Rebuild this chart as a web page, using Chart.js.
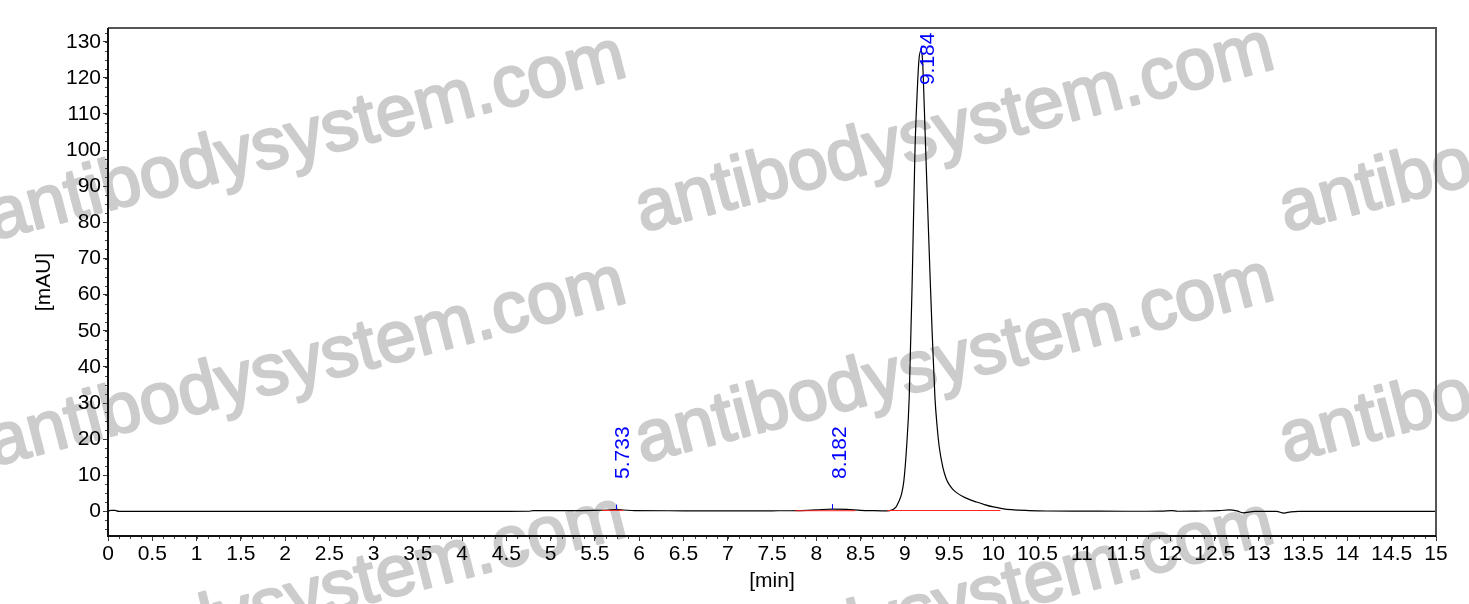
<!DOCTYPE html>
<html>
<head>
<meta charset="utf-8">
<script src="https://cdn.jsdelivr.net/npm/chart.js@4.4.1/dist/chart.umd.min.js"></script>
<style>
html, body { margin: 0; padding: 0; background: #fff; }
#wrap { width: 1469px; height: 604px; position: relative; }
</style>
</head>
<body>
<div id="wrap"><canvas id="myChart"></canvas></div>
<script>
// trace (time in min, signal in mAU)
const timeMin = [
  0.00, 0.03, 0.08, 0.12, 0.5, 1.0, 1.5, 2.0, 2.5, 3.0, 3.5, 4.0, 4.5, 4.75, 4.80,
  5.20, 5.50, 5.65, 5.733, 5.82, 5.95, 6.50, 7.00, 7.50, 7.80, 8.00, 8.182, 8.35,
  8.50, 8.65, 8.80, 8.85, 8.90, 8.93, 8.965, 8.99, 9.02, 9.05, 9.085, 9.115, 9.14,
  9.16, 9.18, 9.20, 9.22, 9.236, 9.26, 9.285, 9.31, 9.34, 9.365, 9.39, 9.43, 9.47,
  9.50, 9.54, 9.585, 9.65, 9.72, 9.81, 9.90, 10.0, 10.1, 10.2, 10.4, 10.6, 11.0, 11.5,
  11.9, 12.02, 12.08, 12.3, 12.55, 12.67, 12.75, 12.82, 12.95, 13.2, 13.28, 13.36,
  13.45, 14.0, 15.0
]
const signalMau = [
  0.05, 0.30, 0.30, 0.02, 0.00, 0.00, 0.00, 0.00, 0.00, 0.00, 0.00, 0.00, 0.02, 0.05, 0.20,
  0.20, 0.28, 0.40, 0.50, 0.40, 0.22, 0.18, 0.15, 0.18, 0.25, 0.45, 0.65, 0.55,
  0.30, 0.20, 0.15, 0.35, 1.2, 2.6, 5.0, 8.6, 17.7, 31.7, 65.4, 100, 116,
  125, 127.5, 125, 112, 100, 83, 65.4, 49, 31.7, 23.5, 17.7, 12.2, 8.9,
  7.5, 6.2, 5.2, 4.2, 3.4, 2.6, 1.9, 1.25, 0.8, 0.5, 0.25, 0.12, 0.08, 0.05,
  0.10, 0.25, 0.05, 0.10, 0.20, 0.45, 0.15, -0.40, 0.00, 0.00, -0.45, -0.10,
  0.00, 0.00, 0.00
]

// integrated peaks
const peakTimes = [5.733, 8.182, 9.184]
const peakLabels = ['5.733', '8.182', '9.184']
const peakTops = [0.5, 0.65, 127.5]
const peakLabelAt = [9, 9, 118]
const baseStart = [5.58, 7.76, 8.80]
const baseEnd = [5.82, 8.44, 10.08]
const baseLevel = [0.3, 0.2, 0.25]

// axes
const xTickValues = [0, 0.5, 1, 1.5, 2, 2.5, 3, 3.5, 4, 4.5, 5, 5.5, 6, 6.5, 7, 7.5,
  8, 8.5, 9, 9.5, 10, 10.5, 11, 11.5, 12, 12.5, 13, 13.5, 14, 14.5, 15]
const yTickValues = [0, 10, 20, 30, 40, 50, 60, 70, 80, 90, 100, 110, 120, 130]
const xRange = [0, 15]
const yRange = [-6.8, 133.8]

const FONT = "'Liberation Sans', Arial, sans-serif"

let traceData = timeMin.map((t, i) => ({x: t, y: signalMau[i]}))

let datasets = []
for (let i = 0; i < peakTimes.length; i++) {
  datasets.push({
    data: [{x: baseStart[i], y: baseLevel[i]}, {x: baseEnd[i], y: baseLevel[i]}],
    borderColor: '#ff2020',
    borderWidth: 1,
    pointRadius: 0,
    tension: 0
  })
}
datasets.push({
  label: 'trace',
  data: traceData,
  borderColor: '#000000',
  borderWidth: 1.2,
  pointRadius: 0,
  fill: false,
  cubicInterpolationMode: 'monotone'
})

// grey watermark behind everything
const watermark = {
  id: 'watermark',
  beforeDraw(chart) {
    const ctx = chart.ctx
    const spots = [[-6, 240], [642, 232], [1286, 232],
                   [-6, 466], [642, 463], [1286, 463],
                   [-6, 700], [642, 706]]
    ctx.save()
    ctx.fillStyle = '#cccccc'
    ctx.strokeStyle = '#cccccc'
    ctx.lineWidth = 2.4
    ctx.lineJoin = 'round'
    ctx.font = '72px ' + FONT
    ctx.textAlign = 'left'
    ctx.textBaseline = 'alphabetic'
    spots.forEach(p => {
      ctx.save()
      ctx.translate(p[0], p[1])
      ctx.rotate(-14.5 * Math.PI / 180)
      ctx.fillText('antibodysystem.com', 0, 0)
      ctx.strokeText('antibodysystem.com', 0, 0)
      ctx.restore()
    })
    ctx.restore()
  }
}

// frame, minor ticks, peak marks and labels
const decorations = {
  id: 'decorations',
  afterDraw(chart) {
    const ctx = chart.ctx
    const a = chart.chartArea
    const xs = chart.scales.x
    const ys = chart.scales.y
    ctx.save()

    // minor ticks
    ctx.strokeStyle = '#444'
    ctx.lineWidth = 1
    ctx.beginPath()
    for (let v = xRange[0]; v <= xRange[1] + 1e-9; v += 0.125) {
      const px = Math.round(xs.getPixelForValue(v)) + 0.5
      ctx.moveTo(px, a.bottom)
      ctx.lineTo(px, a.bottom + 3)
    }
    for (let v = 0; v <= yRange[1]; v += 2.5) {
      const py = Math.round(ys.getPixelForValue(v)) + 0.5
      ctx.moveTo(a.left, py)
      ctx.lineTo(a.left - 3, py)
    }
    for (let v = -2.5; v >= yRange[0]; v -= 2.5) {
      const py = Math.round(ys.getPixelForValue(v)) + 0.5
      ctx.moveTo(a.left, py)
      ctx.lineTo(a.left - 3, py)
    }
    ctx.stroke()

    // frame
    ctx.lineWidth = 2
    ctx.strokeStyle = '#555'
    ctx.beginPath()
    ctx.moveTo(a.left, a.top)
    ctx.lineTo(a.right, a.top)
    ctx.lineTo(a.right, a.bottom)
    ctx.stroke()
    ctx.strokeStyle = '#111'
    ctx.beginPath()
    ctx.moveTo(a.left, a.top)
    ctx.lineTo(a.left, a.bottom)
    ctx.lineTo(a.right, a.bottom)
    ctx.stroke()

    // peak marks and labels
    ctx.beginPath()
    ctx.rect(a.left, a.top, a.right - a.left, a.bottom - a.top)
    ctx.clip()
    ctx.strokeStyle = '#0000ff'
    ctx.fillStyle = '#0000ff'
    ctx.lineWidth = 1
    ctx.font = '21px ' + FONT
    ctx.textAlign = 'left'
    ctx.textBaseline = 'top'
    for (let i = 0; i < peakTimes.length; i++) {
      const px = xs.getPixelForValue(peakTimes[i])
      const py = ys.getPixelForValue(peakTops[i])
      ctx.beginPath()
      ctx.moveTo(Math.round(px) + 0.5, py)
      ctx.lineTo(Math.round(px) + 0.5, py - 5)
      ctx.stroke()
      ctx.save()
      ctx.translate(px - 3, ys.getPixelForValue(peakLabelAt[i]))
      ctx.rotate(-Math.PI / 2)
      ctx.fillText(peakLabels[i], 0, 0)
      ctx.restore()
    }
    ctx.restore()
  }
}

const cfg = {
  type: 'line',
  data: {datasets: datasets},
  options: {
    responsive: true,
    maintainAspectRatio: false,
    animation: false,
    layout: {padding: {top: 28, right: 33, left: 0, bottom: 0}},
    plugins: {legend: {display: false}, tooltip: {enabled: false}},
    scales: {
      x: {
        type: 'linear',
        min: xRange[0],
        max: xRange[1],
        afterBuildTicks: s => { s.ticks = xTickValues.map(v => ({value: v})) },
        afterFit: s => { s.height = 68 },
        border: {display: false},
        grid: {drawOnChartArea: false, drawTicks: true, tickLength: 5, tickColor: '#333'},
        ticks: {
          color: '#000',
          font: {family: FONT, size: 21},
          padding: 1,
          maxRotation: 0,
          autoSkip: false,
          callback: v => String(v)
        },
        title: {display: true, text: '[min]', color: '#000',
                font: {family: FONT, size: 21}, padding: {top: 0, bottom: 10}}
      },
      y: {
        type: 'linear',
        min: yRange[0],
        max: yRange[1],
        afterBuildTicks: s => { s.ticks = yTickValues.map(v => ({value: v})) },
        afterFit: s => { s.width = 108 },
        border: {display: false},
        grid: {drawOnChartArea: false, drawTicks: true, tickLength: 5, tickColor: '#333'},
        ticks: {
          color: '#000',
          font: {family: FONT, size: 21},
          padding: 2,
          autoSkip: false,
          callback: v => String(v)
        },
        title: {display: true, text: '[mAU]', color: '#000',
                font: {family: FONT, size: 21}, padding: {top: 32, bottom: 0}}
      }
    }
  },
  plugins: [watermark, decorations]
}

const ctx = document.getElementById('myChart')
let myChart = new Chart(ctx, cfg)
</script>
</body>
</html>
